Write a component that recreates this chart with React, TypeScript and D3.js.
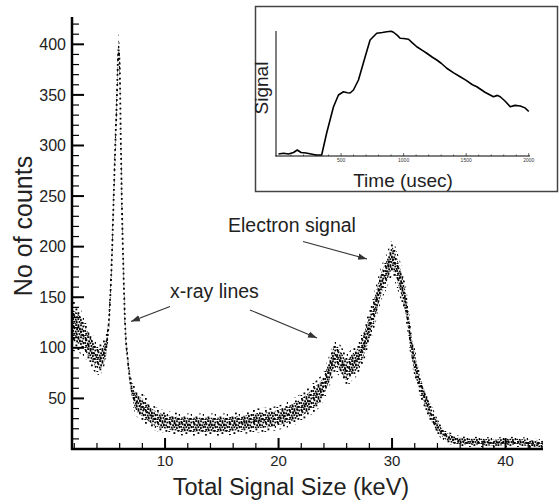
import React from "react";
import * as d3 from "d3";

// Main spectrum: energy (keV), band centre (counts) and band half-width (counts)
const energyKeV = [1.8, 2.2, 2.6, 3.0, 3.4, 3.8, 4.2, 4.6, 4.9, 5.1, 5.3, 5.45, 5.6, 5.75, 5.9, 6.0, 6.1, 6.2, 6.35, 6.5, 6.7, 6.9, 7.1, 7.5, 8, 8.5, 9, 10, 11, 12, 13, 14, 15, 16, 17, 18, 19, 20, 21, 22, 23, 24, 24.5, 25, 25.5, 26, 26.5, 27, 27.5, 28, 28.5, 29, 29.5, 30, 30.5, 31, 31.3, 31.6, 32, 32.5, 33, 33.5, 34, 34.5, 35, 36, 37, 38, 39, 40, 41, 42, 43, 43.3];
const counts = [122, 120, 116, 108, 100, 93, 89, 94, 108, 135, 185, 240, 295, 345, 395, 380, 305, 240, 170, 118, 90, 70, 57, 46, 41, 36, 31, 27, 25, 24, 24, 24, 24, 25, 26, 28, 29, 31, 35, 41, 50, 63, 78, 92, 86, 78, 84, 90, 103, 120, 140, 162, 175, 188, 175, 155, 138, 110, 85, 63, 47, 33, 22, 15, 11, 8, 7, 7, 6, 7, 7, 6, 5, 5];
const spread = [25, 24, 22, 19, 18, 17, 16, 14, 11, 11, 11, 11, 13, 13, 15, 15, 13, 11, 11, 9, 8, 8, 10, 14, 14, 13, 12, 11, 11, 11, 11, 11, 11, 11, 11, 12, 12, 12, 13, 14, 15, 15, 16, 17, 16, 16, 16, 16, 17, 18, 18, 17, 17, 18, 18, 18, 17, 16, 15, 12, 11, 10, 8, 6, 6, 5, 5, 5, 5, 5, 5, 5, 5, 5];

const xTicksMajor = [10, 20, 30, 40];
const yTicksMajor = [50, 100, 150, 200, 250, 300, 350, 400];

// Inset: signal vs time
const insetTime = [0, 40, 80, 120, 150, 180, 220, 260, 300, 345, 385, 439, 479, 519, 550, 572, 599, 639, 692, 732, 785, 830, 865, 900, 919, 950, 972, 1000, 1039, 1070, 1105, 1150, 1185, 1230, 1265, 1300, 1345, 1400, 1452, 1500, 1550, 1585, 1650, 1718, 1750, 1772, 1810, 1852, 1890, 1932, 1970, 2000];
const insetSignal = [1.6, 2.2, 1.6, 2.8, 4.8, 2.8, 2.4, 1.6, 0.8, 0.8, 18.4, 39.2, 48.8, 51.4, 50.6, 50.4, 52.8, 60.8, 79.2, 92.8, 98.2, 98.8, 99.4, 99.8, 99.0, 96.5, 94.2, 94.0, 93.4, 90.5, 87.4, 84.5, 82.2, 79.0, 76.8, 74.2, 70.2, 66.5, 63.4, 60.5, 57.0, 55.4, 51.0, 47.4, 48.5, 47.4, 44.0, 39.4, 40.5, 40.0, 38.5, 35.6];
const insetTicksMajor = [500, 1000, 1500, 2000];

const FONT = "'Liberation Sans', Arial, Helvetica, sans-serif";

export default function App() {
  const W = 559, H = 504;
  const x = d3.scaleLinear().domain([1.8, 43.3]).range([72, 543]);
  const y = d3.scaleLinear().domain([0, 427]).range([449, 17]);

  const data = energyKeV.map((k, i) => ({ k, c: counts[i], s: spread[i] }));
  const outer = d3.area<any>()
    .x(d => x(d.k))
    .y0(d => y(Math.max(0.5, d.c - d.s)))
    .y1(d => y(d.c + d.s))
    .curve(d3.curveMonotoneX);
  const inner = d3.area<any>()
    .x(d => x(d.k))
    .y0(d => y(Math.max(0.5, d.c - d.s * 0.62)))
    .y1(d => y(d.c + d.s * 0.62))
    .curve(d3.curveMonotoneX);
  const centre = d3.line<any>().x(d => x(d.k)).y(d => y(d.c)).curve(d3.curveMonotoneX);

  const xMinor = d3.range(2, 44, 2);
  const yMinor = d3.range(10, 427, 10);

  // inset scales
  const ix = d3.scaleLinear().domain([-20, 2010]).range([276, 530]);
  const iy = d3.scaleLinear().domain([0, 100]).range([156, 31]);
  const insetData = insetTime.map((t, i) => ({ t, v: insetSignal[i] }));
  const insetLine = d3.line<any>().x(d => ix(d.t)).y(d => iy(d.v));
  const insetMinor = d3.range(100, 2001, 100);

  const dense = [[0.5, 1], [3.2, 0.2], [5.6, 1.9], [8.1, 0.4], [10.4, 1.6], [1.6, 3.4], [4.2, 4.3], [6.9, 3.7], [9.3, 4.4], [0.2, 6.1], [2.8, 6.6], [5.4, 6.3], [8, 7.1], [10.7, 6.4], [1.2, 8.9], [3.9, 9.6], [6.6, 9.1], [9.2, 9.9], [2.4, 11.2], [7.7, 11.4], [11.2, 10.1]];
  const sparse = [[1, 2], [7, 4.5], [3.5, 8.5], [9.5, 10], [5.5, 0.2], [10.8, 6], [0.4, 11]];

  const arrow = (x1: number, y1: number, x2: number, y2: number, key: string) => (
    <line key={key} x1={x1} y1={y1} x2={x2} y2={y2} stroke="#333" strokeWidth={1.1} markerEnd="url(#ah)" />
  );

  return (
    <svg width={W} height={H} style={{ position: "absolute", left: 0, top: 0, background: "#fff" }} fontFamily={FONT}>
      <defs>
        <pattern id="pDense" patternUnits="userSpaceOnUse" width={12} height={12}>
          {dense.map(([a, b], i) => <rect key={i} x={a} y={b} width={1.8} height={1.8} fill="#000" />)}
        </pattern>
        <pattern id="pSparse" patternUnits="userSpaceOnUse" width={12} height={12}>
          {sparse.map(([a, b], i) => <rect key={i} x={a} y={b} width={1.8} height={1.8} fill="#000" />)}
        </pattern>
        <clipPath id="plotClip">
          <rect x={73} y={10} width={471} height={438} />
        </clipPath>
        <marker id="ah" viewBox="0 0 10 10" refX={10} refY={5} markerWidth={9} markerHeight={9} markerUnits="userSpaceOnUse" orient="auto">
          <path d="M0,1.5 L10,5 L0,8.5 Z" fill="#333" />
        </marker>
      </defs>

      {/* data band */}
      <g clipPath="url(#plotClip)">
        <path d={outer(data) || ""} fill="url(#pSparse)" />
        <path d={inner(data) || ""} fill="url(#pDense)" />
        <path d={centre(data) || ""} fill="none" stroke="#000" strokeWidth={1.8} strokeDasharray="1.8 3.2" />
      </g>

      {/* axes */}
      <line x1={72} y1={17} x2={72} y2={450} stroke="#000" strokeWidth={2.5} />
      <line x1={71} y1={449} x2={543} y2={449} stroke="#000" strokeWidth={2.5} />
      {yMinor.map(v => (
        <line key={"ym" + v} x1={72} x2={yTicksMajor.includes(v) ? 84 : 79} y1={y(v)} y2={y(v)} stroke="#000" strokeWidth={yTicksMajor.includes(v) ? 2 : 1.2} />
      ))}
      {xMinor.map(v => (
        <line key={"xm" + v} x1={x(v)} x2={x(v)} y1={449} y2={xTicksMajor.includes(v) ? 438 : 443} stroke="#000" strokeWidth={xTicksMajor.includes(v) ? 2 : 1.2} />
      ))}
      {yTicksMajor.map(v => (
        <text key={"yl" + v} x={66} y={y(v)} dy="0.35em" textAnchor="end" fontSize={16} fill="#222">{v}</text>
      ))}
      {xTicksMajor.map(v => (
        <text key={"xl" + v} x={x(v)} y={466} textAnchor="middle" fontSize={15} fill="#222">{v}</text>
      ))}
      <text x={291} y={495} textAnchor="middle" fontSize={23.5} fill="#222">Total Signal Size (keV)</text>
      <text transform="translate(32,226) rotate(-90)" textAnchor="middle" fontSize={25} fill="#222">No of counts</text>

      {/* annotations */}
      <text x={228} y={232} fontSize={19.5} fill="#222">Electron signal</text>
      <text x={170} y={298} fontSize={19.5} fill="#222">x-ray lines</text>
      {arrow(303, 241.5, 367, 259, "a1")}
      {arrow(170, 306.5, 131, 321.5, "a2")}
      {arrow(250, 310, 317, 338, "a3")}

      {/* inset */}
      <rect x={255.5} y={6.5} width={302} height={185} fill="#fff" stroke="#444" strokeWidth={1.5} />
      <line x1={276} y1={31} x2={276} y2={156.5} stroke="#000" strokeWidth={1} />
      <line x1={275.5} y1={156} x2={530} y2={156} stroke="#000" strokeWidth={1} />
      {insetMinor.map(v => (
        <line key={"it" + v} x1={ix(v)} x2={ix(v)} y1={156} y2={insetTicksMajor.includes(v) ? 153 : 154.5} stroke="#000" strokeWidth={0.6} />
      ))}
      {insetTicksMajor.map(v => (
        <text key={"il" + v} x={ix(v)} y={162} textAnchor="middle" fontSize={5} fill="#333">{v}</text>
      ))}
      <path d={insetLine(insetData) || ""} fill="none" stroke="#000" strokeWidth={1.6} strokeLinejoin="round" />
      <text x={403} y={187} textAnchor="middle" fontSize={19} fill="#222">Time (usec)</text>
      <text transform="translate(268,88) rotate(-90)" textAnchor="middle" fontSize={19} fill="#222">Signal</text>
    </svg>
  );
}
